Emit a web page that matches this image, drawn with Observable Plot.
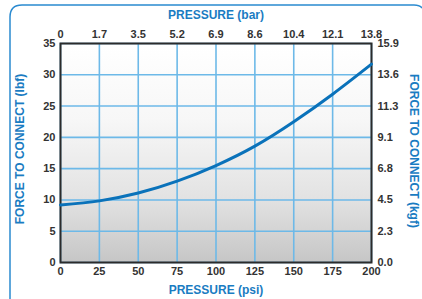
<!DOCTYPE html>
<html>
<head>
<meta charset="utf-8">
<script src="https://cdn.jsdelivr.net/npm/d3@7"></script>
<script src="https://cdn.jsdelivr.net/npm/@observablehq/plot@0.6"></script>
<style>
  html, body { margin: 0; padding: 0; background: #fff; }
  #chart { width: 422px; height: 299px; overflow: hidden; }
</style>
</head>
<body>
<div id="chart"></div>
<script>
// Data
const psi = [0, 25, 50, 75, 100, 125, 150, 175, 200];
const lbf = [9.2, 9.85, 11.1, 13.0, 15.5, 18.6, 22.5, 26.9, 31.7];

// Tick values and labels
const psiTicks = [0, 25, 50, 75, 100, 125, 150, 175, 200];
const barLabels = ["0", "1.7", "3.5", "5.2", "6.9", "8.6", "10.4", "12.1", "13.8"];
const lbfTicks = [0, 5, 10, 15, 20, 25, 30, 35];
const kgfLabels = ["0.0", "2.3", "4.5", "6.8", "9.1", "11.3", "13.6", "15.9"];

const titleTop = "PRESSURE (bar)";
const titleBottom = "PRESSURE (psi)";
const titleLeft = "FORCE TO CONNECT (lbf)";
const titleRight = "FORCE TO CONNECT (kgf)";

const data = psi.map((p, i) => ({psi: p, lbf: lbf[i]}));

const blue = "#1a7cc2";
const tickStyle = {fontFamily: "Liberation Sans, Arial, sans-serif", fontWeight: "bold", fontSize: 11, fill: "#333"};
const titleStyle = {fontFamily: "Liberation Sans, Arial, sans-serif", fontWeight: "bold", fontSize: 12, fill: blue, textAnchor: "middle", lineAnchor: "middle"};

const chart = Plot.plot({
  width: 422,
  height: 299,
  marginLeft: 60,
  marginRight: 51,
  marginTop: 43,
  marginBottom: 37,
  style: {fontFamily: "Liberation Sans, Arial, sans-serif", background: "transparent"},
  x: {domain: [0, 200]},
  y: {domain: [0, 35]},
  marks: [
    Plot.frame({fill: "url(#bggrad)", stroke: "none"}),
    Plot.gridX(psiTicks, {stroke: "#6db9e8", strokeOpacity: 1, strokeWidth: 1.6}),
    Plot.gridY(lbfTicks, {stroke: "#6db9e8", strokeOpacity: 1, strokeWidth: 1.6}),
    Plot.frame({stroke: "#2b2b2b", strokeWidth: 2}),
    Plot.axisX({anchor: "bottom", ticks: psiTicks, tickSize: 0, tickPadding: 5, label: null, ...tickStyle}),
    Plot.axisX({anchor: "top", ticks: psiTicks, tickSize: 0, tickPadding: 6, label: null,
      tickFormat: d => barLabels[psiTicks.indexOf(d)], ...tickStyle}),
    Plot.axisY({anchor: "left", ticks: lbfTicks, tickSize: 0, tickPadding: 5, label: null, ...tickStyle}),
    Plot.axisY({anchor: "right", ticks: lbfTicks, tickSize: 0, tickPadding: 6, label: null,
      tickFormat: d => kgfLabels[lbfTicks.indexOf(d)], ...tickStyle}),
    Plot.line(data, {x: "psi", y: "lbf", curve: "natural", stroke: "#0a72ba", strokeWidth: 3}),
    Plot.text([titleTop], {frameAnchor: "top", dy: -28, ...titleStyle}),
    Plot.text([titleBottom], {frameAnchor: "bottom", dy: 28, ...titleStyle}),
    Plot.text([titleLeft], {frameAnchor: "left", dx: -40, dy: -4, rotate: -90, ...titleStyle}),
    Plot.text([titleRight], {frameAnchor: "right", dx: 42, dy: -2, rotate: 90, ...titleStyle})
  ]
});

// gradient definition for the plot background
const svg = d3.select(chart);
const defs = svg.insert("defs", ":first-child");
const g = defs.append("linearGradient").attr("id", "bggrad").attr("x1", 0).attr("y1", 0).attr("x2", 0).attr("y2", 1);
g.append("stop").attr("offset", "0%").attr("stop-color", "#ffffff");
g.append("stop").attr("offset", "35%").attr("stop-color", "#f7f7f7");
g.append("stop").attr("offset", "70%").attr("stop-color", "#e3e3e3");
g.append("stop").attr("offset", "100%").attr("stop-color", "#c6c6c6");

// decorative rounded border (top-left part visible in the reference)
svg.append("path")
  .attr("d", "M10,299 L10,17 Q10,5 22,5 L414,5 Q420,5 422,8")
  .attr("fill", "none")
  .attr("stroke", "#2a8ad0")
  .attr("stroke-width", 1.5);

document.getElementById("chart").appendChild(chart);
</script>
</body>
</html>
